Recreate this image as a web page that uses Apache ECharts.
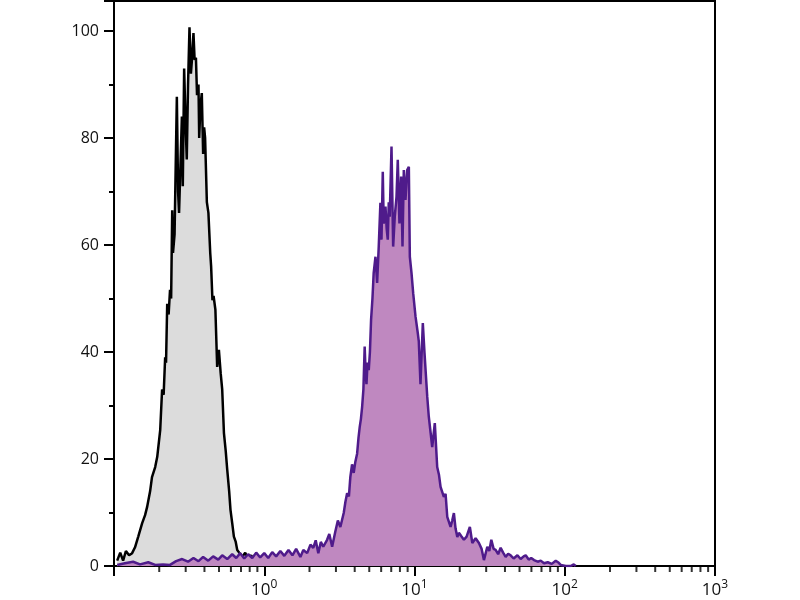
<!DOCTYPE html>
<html>
<head>
<meta charset="utf-8">
<script src="https://cdn.jsdelivr.net/npm/echarts@6/dist/echarts.min.js"></script>
<style>html,body{margin:0;padding:0;background:#fff}#c{width:800px;height:600px}</style>
</head>
<body>
<div id="c"></div>
<script>
// Gray (control) histogram
const grayX = [0.105,0.110,0.115,0.120,0.126,0.132,0.138,0.145,0.154,0.161,0.166,0.174,0.179,0.188,0.194,0.203,0.209,0.214,0.219,0.222,0.226,0.231,0.236,0.240,0.244,0.247,0.253,0.262,0.267,0.271,0.277,0.283,0.287,0.293,0.300,0.305,0.311,0.318,0.325,0.331,0.338,0.344,0.351,0.357,0.365,0.369,0.376,0.384,0.392,0.398,0.404,0.415,0.425,0.437,0.443,0.452,0.460,0.473,0.486,0.499,0.513,0.525,0.539,0.554,0.567,0.584,0.596,0.612,0.628,0.646,0.661,0.681,0.714,0.747,0.782,0.819,0.857,0.898,0.940,0.985,1.03,1.10,1.18,1.28];
const grayY = [1,2.5,1,2.8,2,2.4,3.5,5.5,8,9.5,11,14,16.6,18.5,20.4,25.4,33,32,39,38,49,47,51.6,50,66.5,58.5,62,87.7,70,66,75,84,71,93,82,76,90,100.7,92,95,99.6,94.6,95,88,90,80,86,88.4,77,82,80,68,66,58.5,56,49.7,50.5,47.9,37.2,40.4,36,33,24.9,21.5,18,14,10.5,8,5.5,4.5,3,2.5,1.7,2.5,1.2,2,1,1.8,0.8,1.5,0.6,1,0.3,0];

// Purple (stained) histogram
const purpleX = [0.105,0.118,0.134,0.149,0.169,0.188,0.212,0.236,0.259,0.284,0.311,0.338,0.365,0.392,0.424,0.457,0.494,0.525,0.567,0.612,0.651,0.692,0.736,0.782,0.832,0.884,0.940,1.0,1.063,1.13,1.20,1.28,1.36,1.45,1.54,1.63,1.74,1.82,1.93,2.03,2.12,2.20,2.29,2.38,2.47,2.62,2.71,2.83,2.97,3.09,3.21,3.38,3.47,3.56,3.66,3.74,3.84,3.94,4.04,4.15,4.24,4.32,4.40,4.48,4.57,4.66,4.73,4.79,4.87,4.96,5.05,5.14,5.25,5.35,5.50,5.64,5.78,5.93,6.03,6.15,6.24,6.41,6.53,6.64,6.74,6.84,7.03,7.21,7.39,7.59,7.74,7.94,8.15,8.32,8.49,8.71,8.94,9.17,9.31,9.55,9.80,10.16,10.52,10.68,10.96,11.36,11.66,12.16,12.45,12.79,13.12,13.65,14.16,14.56,14.91,15.68,16.10,16.52,17.38,17.83,18.29,18.76,19.27,19.74,20.56,21.32,22.22,23.36,24.25,25.51,26.84,27.97,28.98,30.53,31.47,32.45,33.62,34.67,36.04,37.44,38.90,40.42,41.99,43.63,45.71,48.40,50.87,53.29,54.95,57.54,59.79,62.44,66.07,69.18,72.80,77.09,81.90,87.10,91.20,94.0,101.6,109.6,114.8,118.3];
const purpleY = [0.2,0.5,0.8,0.3,0.7,0.2,0.3,0.2,0.9,1.3,0.8,1.5,0.9,1.7,1.0,1.8,1.2,2.0,1.3,2.2,1.5,2.4,1.4,2.2,1.5,2.5,1.6,2.4,1.5,2.6,1.8,2.8,1.9,3.0,2.0,3.2,1.7,3.0,2.4,4.0,3.4,4.8,2.4,4.5,3.6,4.9,6.0,3.6,6.4,8.5,7.3,9.9,12,13.6,13,16.6,19,17.4,19.5,21,24,26,27.5,29.7,33,41,36,34,38,36.6,40,46,50,54.8,57.8,52.9,59.7,67.9,61,73.7,64,67.2,63,61,68,65.3,78.4,59.7,65.3,69,75.9,64,72.8,59.7,74,68.4,74,74.6,57.8,54.8,51,46.6,43.5,42,34,45.4,39.8,31.6,27.9,25,22.2,26.7,18.5,17,14.8,12.9,13.5,9.2,7.3,8.5,9.9,7,5.4,6.2,5.5,4.9,5.5,7.3,4.3,5.2,4.3,3.2,1.1,3.6,2.8,4.9,3.2,3,2.2,3.4,2.5,1.7,2.3,2,1.4,2,1.3,1.8,2,1.2,1.5,1.1,0.8,1,0.5,0.7,0.4,1,0.6,0.2,0,0,0.3,0];

// Axis ticks / labels
const yTicks = [0,20,40,60,80,100];
const xMinorTicks = [0.2,0.3,0.4,0.5,0.6,0.7,0.8,0.9,2,3,4,5,6,7,8,9,20,30,40,50,60,70,80,90,200,300,400,500,600,700,800,900];
const xMajorTicks = [1,10,100,1000];

const chart = echarts.init(document.getElementById('c'), null, {renderer:'canvas'});
const pair = (xs, ys) => xs.map((x, i) => [x, ys[i]]);
const font = 'Open Sans, Noto Sans, sans-serif';

chart.setOption({
  animation: false,
  backgroundColor: '#fff',
  grid: { left: 114, right: 85, top: 1, bottom: 34, show: true, borderColor: '#000', borderWidth: 2 },
  xAxis: {
    type: 'log', logBase: 10, min: 0.1, max: 1000,
    axisLine: { show: true, lineStyle: { color: '#000', width: 2 } },
    axisTick: { show: true, length: 10, lineStyle: { color: '#000', width: 2 } },
    splitLine: { show: false },
    axisLabel: {
      margin: 13,
      formatter: function (v) {
        const e = Math.round(Math.log10(v));
        if (Math.abs(Math.log10(v) - e) > 1e-6 || e < 0 || xMajorTicks.indexOf(Math.pow(10, e)) < 0) return '';
        return '{b|10}{s|' + e + '}';
      },
      rich: {
        b: { fontFamily: font, fontSize: 17, color: '#111', lineHeight: 20, verticalAlign: 'bottom' },
        s: { fontFamily: font, fontSize: 12, color: '#111', lineHeight: 20, verticalAlign: 'top', padding: [0, 0, 6, 0] }
      }
    }
  },
  yAxis: {
    type: 'value', min: 0, max: 105.6, interval: 20,
    axisLine: { show: true, lineStyle: { color: '#000', width: 2 } },
    axisTick: { show: true, length: 10, lineStyle: { color: '#000', width: 2 } },
    minorTick: { show: true, splitNumber: 2, length: 5, lineStyle: { color: '#000', width: 2 } },
    splitLine: { show: false },
    axisLabel: {
      margin: 15, fontFamily: font, fontSize: 16, color: '#111',
      formatter: function (v) { return yTicks.indexOf(v) >= 0 ? String(v) : ''; }
    }
  },
  series: [
    {
      type: 'line', data: pair(grayX, grayY), symbol: 'none', smooth: false,
      lineStyle: { color: '#000', width: 2.5 },
      areaStyle: { color: '#dcdcdc', opacity: 1 },
      z: 2
    },
    {
      type: 'line', data: pair(purpleX, purpleY), symbol: 'none', smooth: false,
      lineStyle: { color: '#4f1b8b', width: 2.5 },
      areaStyle: { color: '#bf88c0', opacity: 1 },
      z: 3
    },
    {
      type: 'scatter', data: xMinorTicks.map(v => [v, 0]), symbol: 'rect',
      symbolSize: [2, 5], symbolOffset: [0, 3.5], clip: false, silent: true,
      itemStyle: { color: '#000' }, z: 10
    }
  ]
});
</script>
</body>
</html>
